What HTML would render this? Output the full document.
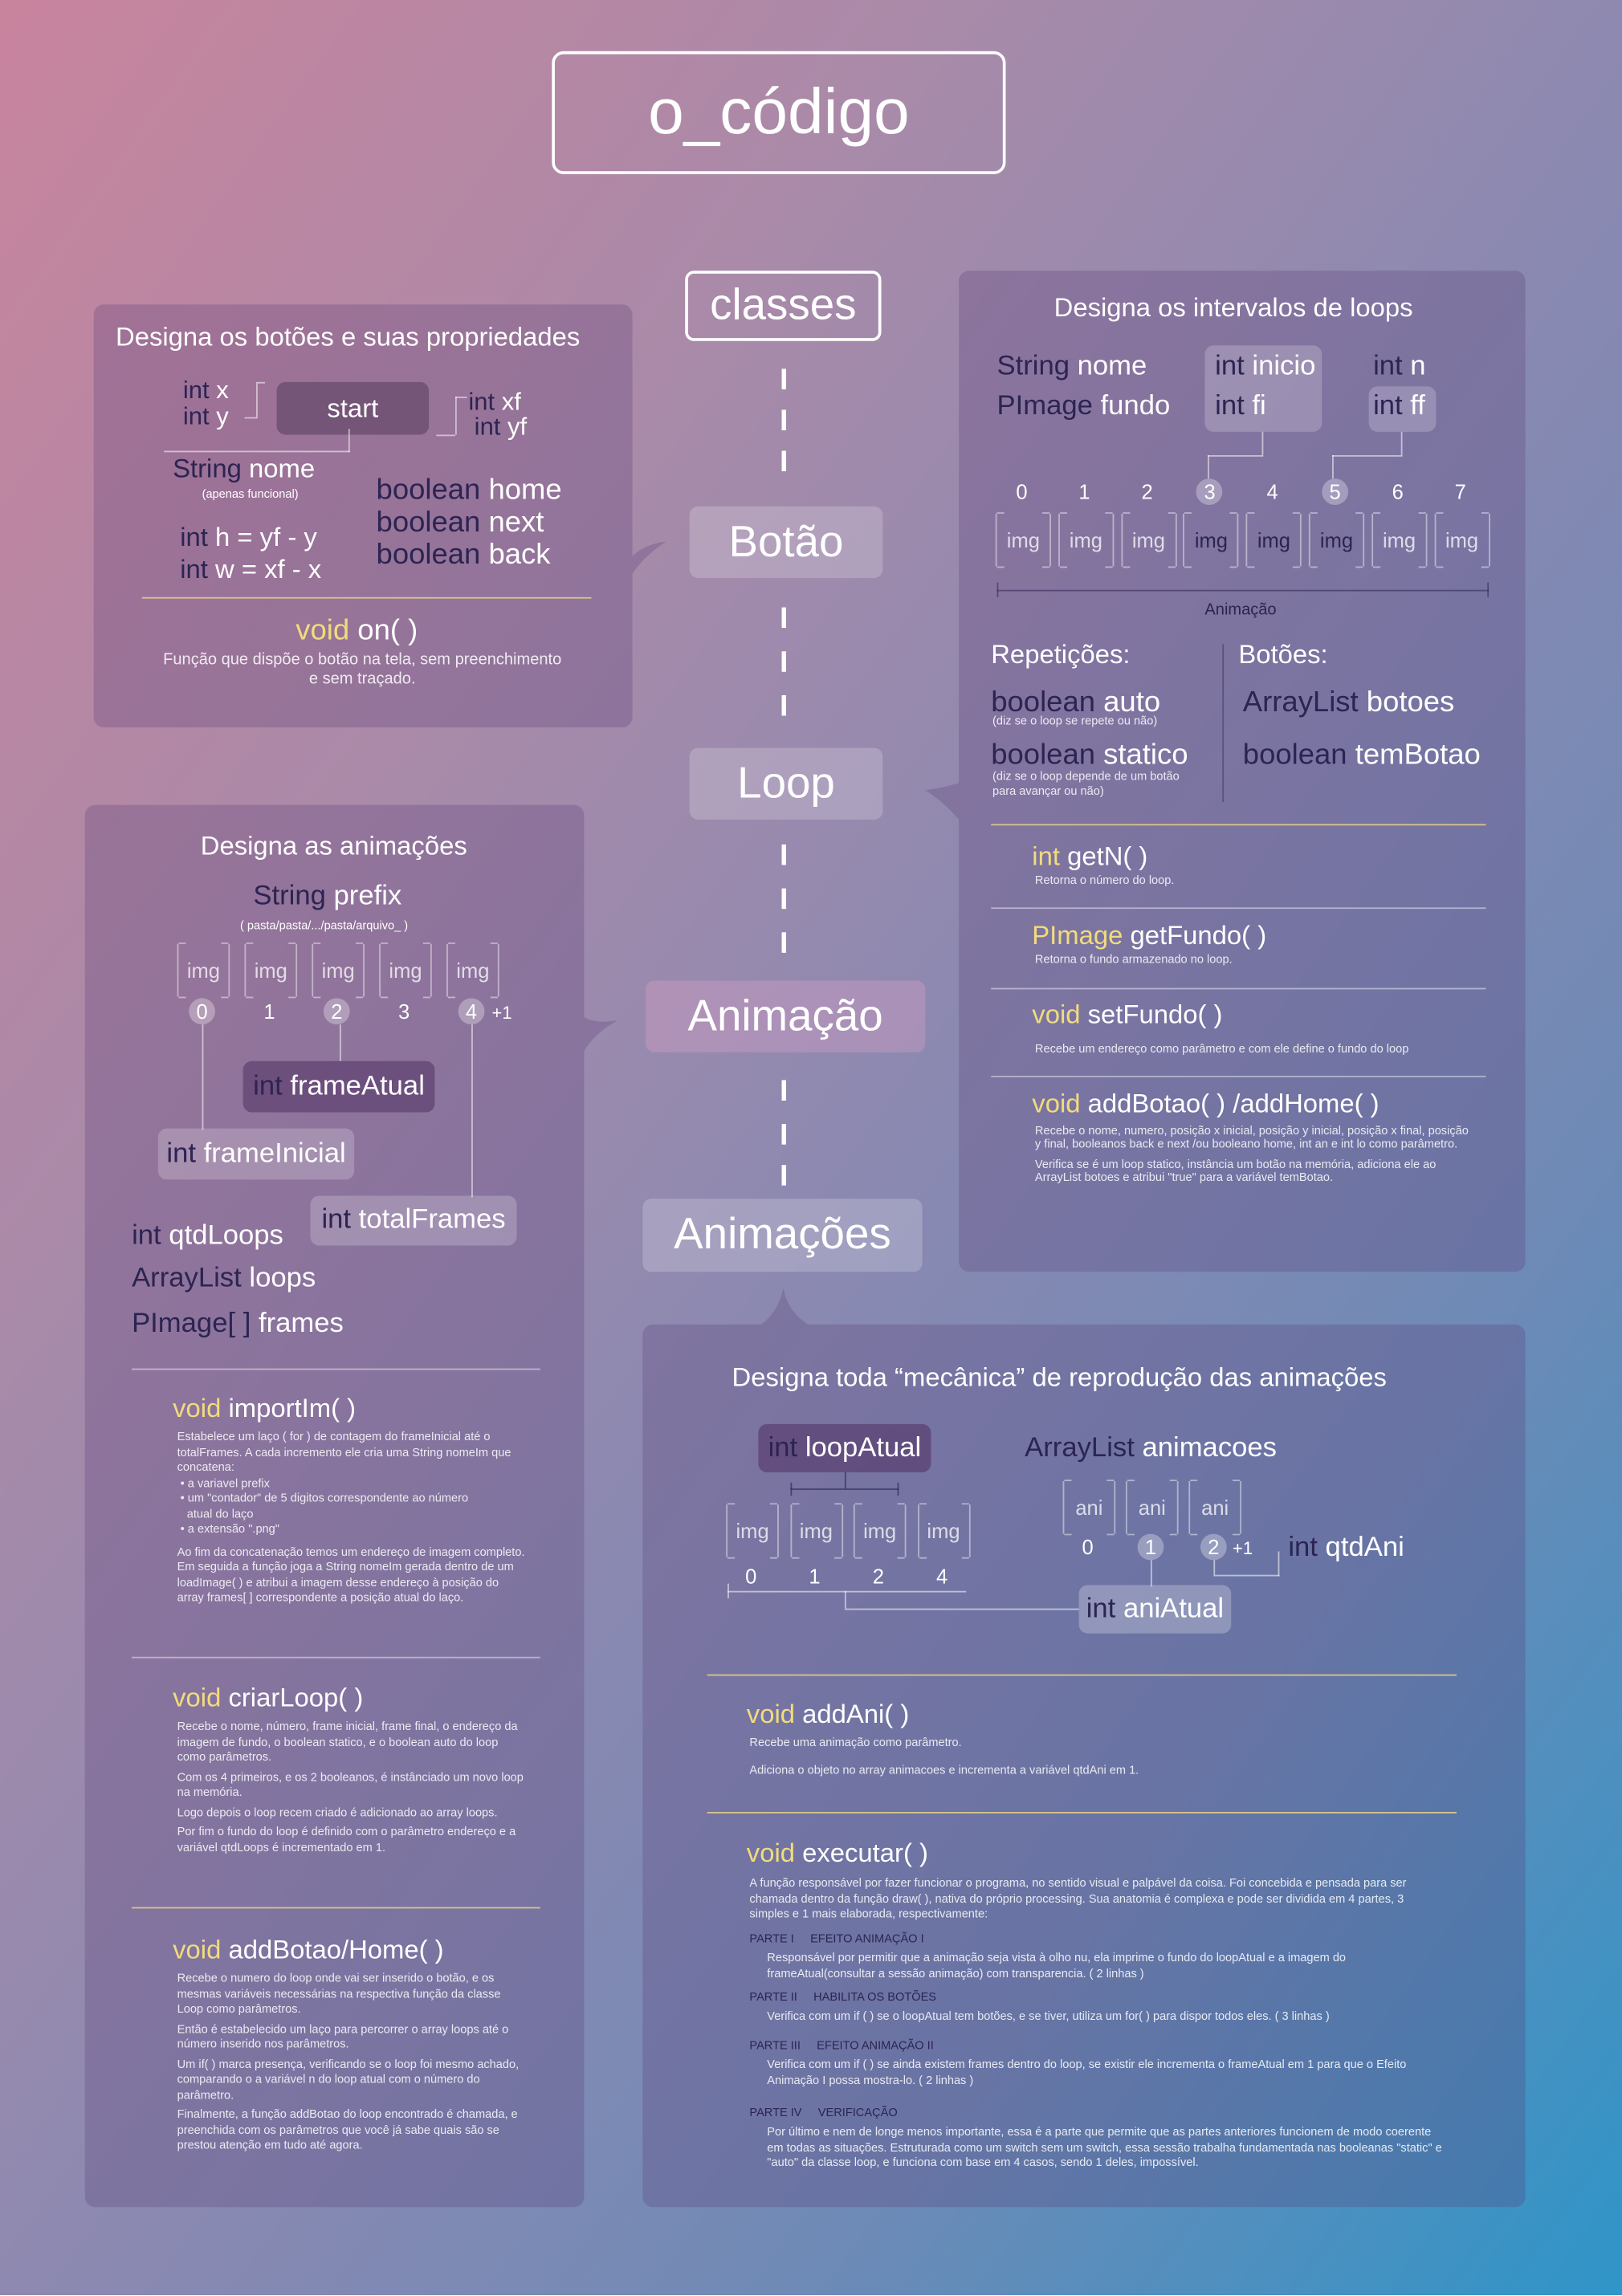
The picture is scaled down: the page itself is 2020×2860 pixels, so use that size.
<!DOCTYPE html>
<html><head><meta charset="utf-8">
<style>
html,body{margin:0;padding:0;width:2020px;height:2859px;overflow:hidden}
#bg{position:absolute;left:0;top:0;width:2020px;height:2859px;background:linear-gradient(to bottom right,#c9849d 0%,#a88aa9 30%,#8889b2 55%,#6e8ab6 75%,#2f95c8 100%)}
#s{position:absolute;left:0;top:0;width:1108px;height:1569px;transform:scale(1.8231);transform-origin:0 0;font-family:"Liberation Sans",sans-serif;color:#fff}
.t{position:absolute;white-space:nowrap;font-weight:normal;line-height:1}
.k{color:#2c2452}.y{color:#f1dc7c}
.p{position:absolute;background:rgba(90,60,120,.28);border-radius:7px}
.box{position:absolute;border-radius:6px;display:flex;align-items:center;justify-content:center;white-space:nowrap}
.sm{position:absolute;font-size:8px;line-height:10px;color:rgba(255,255,255,.85)}
.sep{position:absolute;height:1px;background:rgba(255,255,255,.45)}
.gold{background:#d8c48c}
.img{position:absolute;width:34px;height:36px;border-left:1px solid rgba(255,255,255,.45);border-right:1px solid rgba(255,255,255,.45);font-size:14px;color:rgba(255,255,255,.75);display:flex;align-items:center;justify-content:center}
.img:before,.img:after{content:"";position:absolute;left:0;right:0;height:0}
.img i{position:absolute;left:0;width:5px;height:36px;border-top:1px solid rgba(255,255,255,.45);border-bottom:1px solid rgba(255,255,255,.45);top:-1px}
.img b{position:absolute;right:0;width:5px;height:36px;border-top:1px solid rgba(255,255,255,.45);border-bottom:1px solid rgba(255,255,255,.45);top:-1px}
.n{position:absolute;width:18px;height:18px;margin-left:-9px;text-align:center;line-height:18px;font-size:14px;color:#fff}
.c{border-radius:50%;background:rgba(255,255,255,.3)}
.ln{position:absolute;background:rgba(255,255,255,.55)}
.dash{position:absolute;left:534px;width:3px;height:14px;background:#fff}
</style></head><body>
<div id="bg"></div>
<div id="s">
<div class="box" style="left:377px;top:35px;width:306px;height:80px;border:2px solid #fff;border-radius:8px;font-size:44px">o_código</div>

<div class="box" style="left:468px;top:185px;width:130px;height:44px;border:2px solid #fff;font-size:30px">classes</div>
<div class="dash" style="top:252px"></div><div class="dash" style="top:280px"></div><div class="dash" style="top:308px"></div>
<div class="box" style="left:471px;top:346px;width:132px;height:49px;background:rgba(255,255,255,.2);font-size:30px">Botão</div>
<div class="dash" style="top:415px"></div><div class="dash" style="top:445px"></div><div class="dash" style="top:475px"></div>
<div class="box" style="left:471px;top:511px;width:132px;height:49px;background:rgba(255,255,255,.2);font-size:30px">Loop</div>
<div class="dash" style="top:577px"></div><div class="dash" style="top:607px"></div><div class="dash" style="top:637px"></div>
<div class="box" style="left:441px;top:670px;width:191px;height:49px;background:rgba(220,160,200,.35);font-size:30px">Animação</div>
<div class="dash" style="top:738px"></div><div class="dash" style="top:768px"></div><div class="dash" style="top:796px"></div>
<div class="box" style="left:439px;top:819px;width:191px;height:50px;background:rgba(255,255,255,.2);font-size:30px">Animações</div>

<!-- Panel Botão -->
<div class="p" style="left:64px;top:208px;width:368px;height:289px"></div>
<svg style="position:absolute;left:0;top:0" width="1108" height="1569"><g fill="rgba(90,60,120,.28)">
<path d="M432 380 Q440 372 455 370 Q440 380 432 392Z"/>
<path d="M399 695 Q408 700 422 697 Q406 706 399 718Z"/>
<path d="M655 535 Q645 538 632 540 Q645 548 655 560Z"/>
<path d="M520 905 Q532 896 535 880 Q538 896 552 905Z"/></g></svg>
<div class="t" style="left:79px;top:221px;font-size:18px">Designa os botões e suas propriedades</div>
<div class="t" style="left:125px;top:258px;font-size:17px"><span class="k">int</span> x</div>
<div class="t" style="left:125px;top:276px;font-size:17px"><span class="k">int</span> y</div>
<div class="ln" style="left:167px;top:285px;width:8px;height:1px"></div><div class="ln" style="left:175px;top:262px;width:1px;height:24px"></div><div class="ln" style="left:175px;top:261px;width:6px;height:1px"></div>
<div class="box" style="left:189px;top:261px;width:104px;height:36px;background:#745578;font-size:18px">start</div>
<div class="t" style="left:320px;top:266px;font-size:17px"><span class="k">int</span> xf</div>
<div class="t" style="left:324px;top:283px;font-size:17px"><span class="k">int</span> yf</div>
<div class="ln" style="left:311px;top:271px;width:1px;height:26px"></div><div class="ln" style="left:311px;top:271px;width:8px;height:1px"></div><div class="ln" style="left:298px;top:297px;width:13px;height:1px"></div>
<div class="ln" style="left:238px;top:293px;width:1px;height:16px"></div><div class="ln" style="left:112px;top:308px;width:127px;height:1px"></div>
<div class="t" style="left:118px;top:311px;font-size:18px"><span class="k">String</span> nome</div>
<div class="t" style="left:138px;top:334px;font-size:8px">(apenas funcional)</div>
<div class="t" style="left:123px;top:358px;font-size:18px"><span class="k">int</span> h = yf - y</div>
<div class="t" style="left:123px;top:380px;font-size:18px"><span class="k">int</span> w = xf - x</div>
<div class="t" style="left:257px;top:325px;font-size:20px"><span class="k">boolean</span> home</div>
<div class="t" style="left:257px;top:347px;font-size:20px"><span class="k">boolean</span> next</div>
<div class="t" style="left:257px;top:369px;font-size:20px"><span class="k">boolean</span> back</div>
<div class="sep gold" style="left:97px;top:408px;width:307px"></div>
<div class="t" style="left:202px;top:421px;font-size:20px"><span class="y">void</span> on( )</div>
<div class="sm" style="left:110px;top:445px;width:275px;text-align:center;font-size:11px;line-height:13px">Função que dispõe o botão na tela, sem preenchimento e sem traçado.</div>

<!-- Right panel Loop -->
<div class="p" style="left:655px;top:185px;width:387px;height:684px"></div>
<div class="t" style="left:720px;top:201px;font-size:18px">Designa os intervalos de loops</div>
<div class="t" style="left:681px;top:241px;font-size:19px"><span class="k">String</span> nome</div>
<div class="t" style="left:681px;top:268px;font-size:19px"><span class="k">PImage</span> fundo</div>
<div class="box" style="left:823px;top:236px;width:80px;height:59px;background:rgba(255,255,255,.2)"></div>
<div class="t" style="left:830px;top:241px;font-size:19px"><span class="k">int</span> inicio</div>
<div class="t" style="left:830px;top:268px;font-size:19px"><span class="k">int</span> fi</div>
<div class="t" style="left:938px;top:241px;font-size:19px"><span class="k">int</span> n</div>
<div class="box" style="left:935px;top:264px;width:46px;height:31px;background:rgba(255,255,255,.2)"></div>
<div class="t" style="left:938px;top:268px;font-size:19px"><span class="k">int</span> ff</div>
<div class="ln" style="left:862px;top:295px;width:1px;height:16px"></div><div class="ln" style="left:825px;top:311px;width:38px;height:1px"></div><div class="ln" style="left:825px;top:311px;width:1px;height:16px"></div>
<div class="ln" style="left:957px;top:295px;width:1px;height:16px"></div><div class="ln" style="left:910px;top:311px;width:48px;height:1px"></div><div class="ln" style="left:910px;top:311px;width:1px;height:16px"></div>
<div id="loopnums"></div>
<div class="ln" style="left:681px;top:403px;width:336px;height:1px;background:rgba(40,30,80,.5)"></div>
<div class="ln" style="left:681px;top:398px;width:1px;height:10px;background:rgba(40,30,80,.5)"></div><div class="ln" style="left:1016px;top:398px;width:1px;height:10px;background:rgba(40,30,80,.5)"></div>
<div class="t k" style="left:823px;top:412px;font-size:11px">Animação</div>
<div class="t" style="left:677px;top:438px;font-size:18px">Repetições:</div>
<div class="t" style="left:846px;top:438px;font-size:18px">Botões:</div>
<div class="ln" style="left:835px;top:440px;width:1px;height:108px;background:rgba(40,30,80,.4)"></div>
<div class="t" style="left:677px;top:470px;font-size:20px"><span class="k">boolean</span> auto</div>
<div class="sm" style="left:678px;top:488px">(diz se o loop se repete ou não)</div>
<div class="t" style="left:677px;top:506px;font-size:20px"><span class="k">boolean</span> statico</div>
<div class="sm" style="left:678px;top:526px">(diz se o loop depende de um botão<br>para avançar ou não)</div>
<div class="t" style="left:849px;top:470px;font-size:20px"><span class="k">ArrayList</span> botoes</div>
<div class="t" style="left:849px;top:506px;font-size:20px"><span class="k">boolean</span> temBotao</div>
<div class="sep gold" style="left:677px;top:563px;width:338px"></div>
<div class="t" style="left:705px;top:576px;font-size:18px"><span class="y">int</span> getN( )</div>
<div class="sm" style="left:707px;top:597px">Retorna o número do loop.</div>
<div class="sep" style="left:677px;top:620px;width:338px"></div>
<div class="t" style="left:705px;top:630px;font-size:18px"><span class="y">PImage</span> getFundo( )</div>
<div class="sm" style="left:707px;top:651px">Retorna o fundo armazenado no loop.</div>
<div class="sep" style="left:677px;top:675px;width:338px"></div>
<div class="t" style="left:705px;top:684px;font-size:18px"><span class="y">void</span> setFundo( )</div>
<div class="sm" style="left:707px;top:712px">Recebe um endereço como parâmetro e com ele define o fundo do loop</div>
<div class="sep" style="left:677px;top:735px;width:338px"></div>
<div class="t" style="left:705px;top:745px;font-size:18px"><span class="y">void</span> addBotao( ) /addHome( )</div>
<div class="sm" style="left:707px;top:768px;width:300px;line-height:9px">Recebe o nome, numero, posição x inicial, posição y inicial, posição x final, posição y final, booleanos back e next /ou booleano home, int an e int lo como parâmetro.<br><span style="display:block;height:5px"></span>Verifica se é um loop statico, instância um botão na memória, adiciona ele ao ArrayList botoes e atribui "true" para a variável temBotao.</div>

<!-- Left panel Animação -->
<div class="p" style="left:58px;top:550px;width:341px;height:958px"></div>
<div class="t" style="left:137px;top:569px;font-size:18px">Designa as animações</div>
<div class="t" style="left:173px;top:603px;font-size:19px"><span class="k">String</span> prefix</div>
<div class="t" style="left:164px;top:629px;font-size:8px">( pasta/pasta/.../pasta/arquivo_ )</div>
<div id="aninums"></div>
<div class="ln" style="left:232px;top:700px;width:1px;height:25px"></div>
<div class="ln" style="left:138px;top:700px;width:1px;height:72px"></div>
<div class="ln" style="left:322px;top:700px;width:1px;height:118px"></div>
<div class="box" style="left:166px;top:725px;width:131px;height:35px;background:rgba(80,50,100,.55);font-size:19px"><span class="k">int</span>&nbsp;frameAtual</div>
<div class="box" style="left:108px;top:771px;width:134px;height:35px;background:rgba(255,255,255,.2);font-size:19px"><span class="k">int</span>&nbsp;frameInicial</div>
<div class="box" style="left:212px;top:817px;width:141px;height:34px;background:rgba(255,255,255,.2);font-size:19px"><span class="k">int</span>&nbsp;totalFrames</div>
<div class="t" style="left:90px;top:835px;font-size:19px"><span class="k">int</span> qtdLoops</div>
<div class="t" style="left:90px;top:864px;font-size:19px"><span class="k">ArrayList</span> loops</div>
<div class="t" style="left:90px;top:895px;font-size:19px"><span class="k">PImage[ ]</span> frames</div>
<div class="sep" style="left:90px;top:935px;width:279px"></div>
<div class="t" style="left:118px;top:953px;font-size:18px"><span class="y">void</span> importIm( )</div>
<div class="sm" style="left:121px;top:977px;width:240px;line-height:10.5px">Estabelece um laço ( for ) de contagem do frameInicial até o totalFrames. A cada incremento ele cria uma String nomeIm que concatena:<br>&nbsp;• a variavel prefix<br>&nbsp;• um "contador" de 5 digitos correspondente ao número<br>&nbsp;&nbsp;&nbsp;atual do laço<br>&nbsp;• a extensão ".png"<br><span style="display:block;height:5px"></span>Ao fim da concatenação temos um endereço de imagem completo. Em seguida a função joga a String nomeIm gerada dentro de um loadImage( ) e atribui a imagem desse endereço à posição do array frames[ ] correspondente a posição atual do laço.</div>
<div class="sep" style="left:90px;top:1132px;width:279px"></div>
<div class="t" style="left:118px;top:1151px;font-size:18px"><span class="y">void</span> criarLoop( )</div>
<div class="sm" style="left:121px;top:1175px;width:240px;line-height:10.5px">Recebe o nome, número, frame inicial, frame final, o endereço da imagem de fundo, o boolean statico, e o boolean auto do loop como parâmetros.<br><span style="display:block;height:3px"></span>Com os 4 primeiros, e os 2 booleanos, é instânciado um novo loop na memória.<br><span style="display:block;height:3px"></span>Logo depois o loop recem criado é adicionado ao array loops.<br><span style="display:block;height:3px"></span>Por fim o fundo do loop é definido com o parâmetro endereço e a variável qtdLoops é incrementado em 1.</div>
<div class="sep gold" style="left:90px;top:1303px;width:279px"></div>
<div class="t" style="left:118px;top:1323px;font-size:18px"><span class="y">void</span> addBotao/Home( )</div>
<div class="sm" style="left:121px;top:1347px;width:240px;line-height:10.5px">Recebe o numero do loop onde vai ser inserido o botão, e os mesmas variáveis necessárias na respectiva função da classe Loop como parâmetros.<br><span style="display:block;height:3px"></span>Então é estabelecido um laço para percorrer o array loops até o número inserido nos parâmetros.<br><span style="display:block;height:3px"></span>Um if( ) marca presença, verificando se o loop foi mesmo achado, comparando o a variável n do loop atual com o número do parâmetro.<br><span style="display:block;height:3px"></span>Finalmente, a função addBotao do loop encontrado é chamada, e preenchida com os parâmetros que você já sabe quais são se prestou atenção em tudo até agora.</div>

<!-- Bottom panel Animações -->
<div class="p" style="left:439px;top:905px;width:603px;height:603px"></div>
<div class="t" style="left:500px;top:932px;font-size:18px">Designa toda “mecânica” de reprodução das animações</div>
<div class="box" style="left:518px;top:973px;width:118px;height:33px;background:rgba(80,50,100,.55);font-size:19px"><span class="k">int</span>&nbsp;loopAtual</div>
<div class="ln" style="left:577px;top:1006px;width:1px;height:11px;background:rgba(40,30,80,.6)"></div>
<div class="ln" style="left:540px;top:1017px;width:74px;height:1px;background:rgba(40,30,80,.6)"></div>
<div class="ln" style="left:540px;top:1013px;width:1px;height:9px;background:rgba(40,30,80,.6)"></div><div class="ln" style="left:613px;top:1013px;width:1px;height:9px;background:rgba(40,30,80,.6)"></div>
<div id="mechnums"></div>
<div class="ln" style="left:497px;top:1087px;width:163px;height:1px"></div>
<div class="ln" style="left:497px;top:1082px;width:1px;height:10px"></div>
<div class="ln" style="left:577px;top:1087px;width:1px;height:12px"></div><div class="ln" style="left:577px;top:1099px;width:160px;height:1px"></div>
<div class="t" style="left:700px;top:980px;font-size:19px"><span class="k">ArrayList</span> animacoes</div>
<div class="t" style="left:880px;top:1048px;font-size:19px"><span class="k">int</span> qtdAni</div>
<div class="ln" style="left:786px;top:1066px;width:1px;height:18px"></div>
<div class="ln" style="left:829px;top:1066px;width:1px;height:10px"></div><div class="ln" style="left:829px;top:1076px;width:45px;height:1px"></div><div class="ln" style="left:873px;top:1060px;width:1px;height:17px"></div>
<div class="box" style="left:737px;top:1083px;width:104px;height:33px;background:rgba(255,255,255,.25);font-size:19px"><span class="k">int</span>&nbsp;aniAtual</div>
<div class="sep gold" style="left:483px;top:1144px;width:512px"></div>
<div class="t" style="left:510px;top:1162px;font-size:18px"><span class="y">void</span> addAni( )</div>
<div class="sm" style="left:512px;top:1186px">Recebe uma animação como parâmetro.</div>
<div class="sm" style="left:512px;top:1205px">Adiciona o objeto no array animacoes e incrementa a variável qtdAni em 1.</div>
<div class="sep gold" style="left:483px;top:1238px;width:512px"></div>
<div class="t" style="left:510px;top:1257px;font-size:18px"><span class="y">void</span> executar( )</div>
<div class="sm" style="left:512px;top:1282px;width:470px;line-height:10.5px">A função responsável por fazer funcionar o programa, no sentido visual e palpável da coisa. Foi concebida e pensada para ser chamada dentro da função draw( ), nativa do próprio processing. Sua anatomia é complexa e pode ser dividida em 4 partes, 3 simples e 1 mais elaborada, respectivamente:</div>
<div class="sm" style="left:512px;top:1320px;color:#2c2452">PARTE I &nbsp;&nbsp;&nbsp; EFEITO ANIMAÇÃO I</div>
<div class="sm" style="left:524px;top:1333px;width:460px;line-height:10.5px">Responsável por permitir que a animação seja vista à olho nu, ela imprime o fundo do loopAtual e a imagem do frameAtual(consultar a sessão animação) com transparencia. ( 2 linhas )</div>
<div class="sm" style="left:512px;top:1360px;color:#2c2452">PARTE II &nbsp;&nbsp;&nbsp; HABILITA OS BOTÕES</div>
<div class="sm" style="left:524px;top:1373px;width:460px">Verifica com um if ( ) se o loopAtual tem botões, e se tiver, utiliza um for( ) para dispor todos eles. ( 3 linhas )</div>
<div class="sm" style="left:512px;top:1393px;color:#2c2452">PARTE III &nbsp;&nbsp;&nbsp; EFEITO ANIMAÇÃO II</div>
<div class="sm" style="left:524px;top:1406px;width:460px;line-height:10.5px">Verifica com um if ( ) se ainda existem frames dentro do loop, se existir ele incrementa o frameAtual em 1 para que o Efeito Animação I possa mostra-lo. ( 2 linhas )</div>
<div class="sm" style="left:512px;top:1439px;color:#2c2452">PARTE IV &nbsp;&nbsp;&nbsp; VERIFICAÇÃO</div>
<div class="sm" style="left:524px;top:1452px;width:465px;line-height:10.5px">Por último e nem de longe menos importante, essa é a parte que permite que as partes anteriores funcionem de modo coerente em todas as situações. Estruturada como um switch sem um switch, essa sessão trabalha fundamentada nas booleanas "static" e "auto" da classe loop, e funciona com base em 4 casos, sendo 1 deles, impossível.</div>
</div>
<script>
// frame indices and labels
const loopFrames = [0,1,2,3,4,5,6,7];
const loopHighlighted = [3,5];
const aniFrames = ["0","1","2","3","4"];
const aniHighlighted = ["0","2","4"];
const mechFrames = ["0","1","2","4"];
const aniList = ["0","1","2"];
const aniListHighlighted = ["1","2"];
function mkImg(parent,x,y,label,dark,w){
  const d=document.createElement('div');d.className='img';
  
  
  d.style.left=x+'px';d.style.top=y+'px';if(w)d.style.width=w+'px';
  if(dark)d.style.color='#2c2452';
  d.innerHTML='<i></i><b></b>'+label;parent.appendChild(d);
}
function mkNum(parent,x,y,label,hl){
  const n=document.createElement('div');n.className='n'+(hl?' c':'');
  
  
  n.style.left=x+'px';n.style.top=y+'px';n.textContent=label;parent.appendChild(n);
}
const s=document.getElementById('s');
// loop panel: x from index
loopFrames.forEach((f,i)=>{
  const cx=698+i*42.8;
  mkNum(s,cx,327,String(f),loopHighlighted.includes(f));
  mkImg(s,cx-18,351,'img',i>=3&&i<=5,36);
});
aniFrames.forEach((f,i)=>{
  const cx=138+i*46;
  mkImg(s,cx-17,645,'img',false,34);
  mkNum(s,cx,682,f,aniHighlighted.includes(f));
});
const pl=document.createElement('div');pl.className='t';pl.style.left='336px';pl.style.top='686px';pl.style.fontSize='12px';pl.textContent='+1';s.appendChild(pl);
mechFrames.forEach((f,i)=>{
  const cx=513+i*43.5;
  mkImg(s,cx-17,1028,'img',false,34);
  mkNum(s,cx,1068,f,false);
});
aniList.forEach((f,i)=>{
  const cx=743+i*43;
  mkImg(s,cx-17,1012,'ani',false,34);
  mkNum(s,cx,1048,f,aniListHighlighted.includes(f));
});
const pl2=document.createElement('div');pl2.className='t';pl2.style.left='842px';pl2.style.top='1052px';pl2.style.fontSize='12px';pl2.textContent='+1';s.appendChild(pl2);
</script>
</body></html>
